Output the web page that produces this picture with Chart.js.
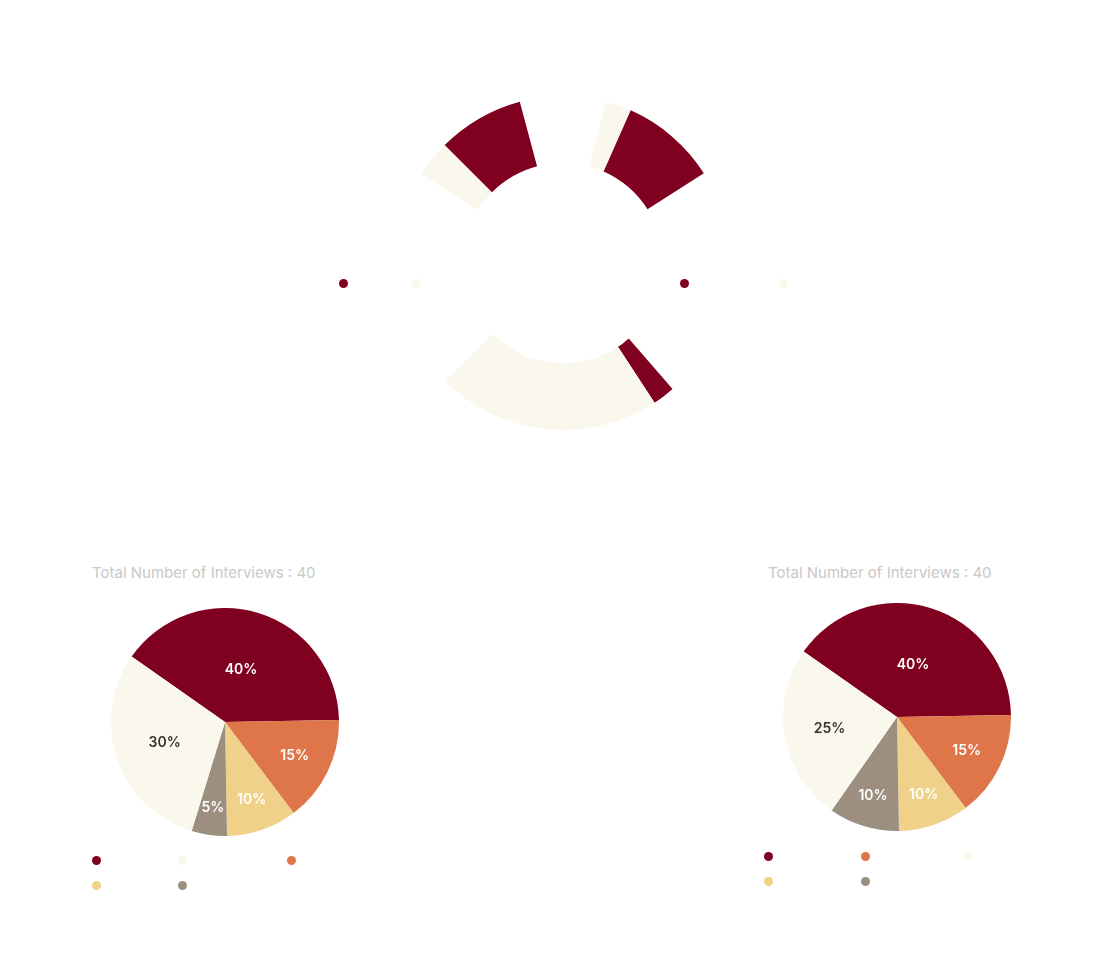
<!DOCTYPE html>
<html>
<head>
<meta charset="utf-8">
<script src="https://cdn.jsdelivr.net/npm/chart.js@4.4.0/dist/chart.umd.min.js"></script>
<style>
html,body{margin:0;padding:0;background:#fff;}
body{width:1112px;height:976px;position:relative;overflow:hidden;font-family:Inter,"DejaVu Sans",sans-serif;}
.abs{position:absolute;}
.title{font-size:15px;color:#c8c8c8;white-space:nowrap;line-height:18px;}
.legend{display:flex;align-items:center;font-size:12px;color:#fff;height:18px;}
.item{display:flex;align-items:center;white-space:nowrap;font-size:12px;color:#fff;}
.dot{width:9px;height:9px;border-radius:50%;margin-right:8px;flex:none;}
.grid{display:grid;grid-auto-rows:25px;align-items:center;}
</style>
</head>
<body>
<div class="abs" style="left:396px;top:96px;width:334px;height:334px;"><canvas id="gauge" width="334" height="334"></canvas></div>
<div class="abs legend" id="legTopL" style="left:338.5px;top:274px;"></div>
<div class="abs legend" id="legTopR" style="left:679.5px;top:274px;"></div>

<div class="abs title" style="left:92px;top:564px;" id="titleL"></div>
<div class="abs title" style="left:768px;top:564px;" id="titleR"></div>
<div class="abs" style="left:111px;top:608px;width:228px;height:228px;"><canvas id="pieL" width="228" height="228"></canvas></div>
<div class="abs" style="left:783px;top:603px;width:228px;height:228px;"><canvas id="pieR" width="228" height="228"></canvas></div>
<div class="abs grid" id="legPieL" style="left:91.5px;top:847.5px;grid-template-columns:86px 109px auto;"></div>
<div class="abs grid" id="legPieR" style="left:763.5px;top:843.5px;grid-template-columns:97px 103px auto;"></div>

<script>
// ---------- data ----------
const gaugeLabels = ['Yes', 'No'];
const gaugeLeft = [70, 30];
const gaugeRight = [79, 21];
const gaugeBottom = [9, 91];

const pieLabels = ['Very Satisfied', 'Satisfied', 'Neutral', 'Dissatisfied', 'Not Sure'];
const pieLeftValues = [40, 15, 10, 5, 30];
const pieRightValues = [40, 15, 10, 10, 25];
const totalInterviews = 40;
const titleText = 'Total Number of Interviews : ' + totalInterviews;

// ---------- styles ----------
const RED = '#800020', CREAM = '#FAF8EC', ORANGE = '#DE764A', YELLOW = '#F0D189', GRAY = '#9C8F80';
const gaugeColors = [RED, CREAM];
const pieColors = [RED, ORANGE, YELLOW, GRAY, CREAM];

// gauge arc layout (degrees, clockwise from top): start, span, drawing order of categories
const gaugeArcs = [
  {vals: gaugeRight, start: 15, span: 42.5, order: [1, 0]},
  {vals: gaugeBottom, start: 139, span: 86, order: [0, 1]},
  {vals: gaugeLeft, start: 302, span: 43, order: [1, 0]}
];
const gData = [], gColors = [], gLabels = [];
let cursor = gaugeArcs[0].start;
gaugeArcs.forEach(a => {
  if (a.start > cursor) { gData.push(a.start - cursor); gColors.push('rgba(0,0,0,0)'); gLabels.push(''); }
  const sum = a.vals.reduce((s, v) => s + v, 0);
  a.order.forEach(k => { gData.push(a.vals[k] / sum * a.span); gColors.push(gaugeColors[k]); gLabels.push(gaugeLabels[k]); });
  cursor = a.start + a.span;
});
gData.push(360 + gaugeArcs[0].start - cursor); gColors.push('rgba(0,0,0,0)'); gLabels.push('');

new Chart(document.getElementById('gauge'), {
  type: 'doughnut',
  data: {labels: gLabels, datasets: [{data: gData, backgroundColor: gColors, borderWidth: 0, hoverOffset: 0}]},
  options: {
    responsive: false, animation: false, rotation: gaugeArcs[0].start, cutout: '60%',
    layout: {padding: 0},
    plugins: {legend: {display: false}, tooltip: {enabled: false}}
  }
});

const pctLabels = {
  id: 'pctLabels',
  afterDatasetsDraw(chart) {
    const {ctx} = chart;
    const ds = chart.data.datasets[0];
    const total = ds.data.reduce((a, b) => a + b, 0);
    chart.getDatasetMeta(0).data.forEach((arc, i) => {
      const f = ds.data[i] / total;
      const mid = (arc.startAngle + arc.endAngle) / 2;
      const r = arc.outerRadius * (0.8 - 0.8 * f);
      const x = arc.x + Math.cos(mid) * r, y = arc.y + Math.sin(mid) * r;
      ctx.save();
      ctx.font = '600 14px Inter, "DejaVu Sans", sans-serif';
      ctx.fillStyle = ds.backgroundColor[i] === CREAM ? '#333333' : '#ffffff';
      ctx.textAlign = 'center'; ctx.textBaseline = 'middle';
      ctx.fillText(Math.round(f * 100) + '%', x, y);
      ctx.restore();
    });
  }
};

function makePie(id, values) {
  new Chart(document.getElementById(id), {
    type: 'pie',
    data: {labels: pieLabels, datasets: [{data: values, backgroundColor: pieColors, borderWidth: 0, hoverOffset: 0}]},
    options: {
      responsive: false, animation: false, rotation: -55,
      layout: {padding: 0},
      plugins: {legend: {display: false}, tooltip: {enabled: false}}
    },
    plugins: [pctLabels]
  });
}
makePie('pieL', pieLeftValues);
makePie('pieR', pieRightValues);

document.getElementById('titleL').textContent = titleText;
document.getElementById('titleR').textContent = titleText;

function legendItem(label, color, width) {
  const it = document.createElement('div');
  it.className = 'item';
  if (width) it.style.width = width + 'px';
  const d = document.createElement('span'); d.className = 'dot'; d.style.background = color;
  const t = document.createElement('span'); t.textContent = label;
  it.appendChild(d); it.appendChild(t);
  return it;
}
const lt = document.getElementById('legTopL');
lt.appendChild(legendItem(gaugeLabels[0], gaugeColors[0], 73));
lt.appendChild(legendItem(gaugeLabels[1], gaugeColors[1]));
const rt = document.getElementById('legTopR');
rt.appendChild(legendItem(gaugeLabels[0], gaugeColors[0], 99));
rt.appendChild(legendItem(gaugeLabels[1], gaugeColors[1]));

// legend orders as in the picture
const lpOrder = [0, 4, 1, 2, 3];
const rpOrder = [0, 1, 4, 2, 3];
const lp = document.getElementById('legPieL');
lpOrder.forEach(i => lp.appendChild(legendItem(pieLabels[i], pieColors[i])));
const rp = document.getElementById('legPieR');
rpOrder.forEach(i => rp.appendChild(legendItem(pieLabels[i], pieColors[i])));
</script>
</body>
</html>
